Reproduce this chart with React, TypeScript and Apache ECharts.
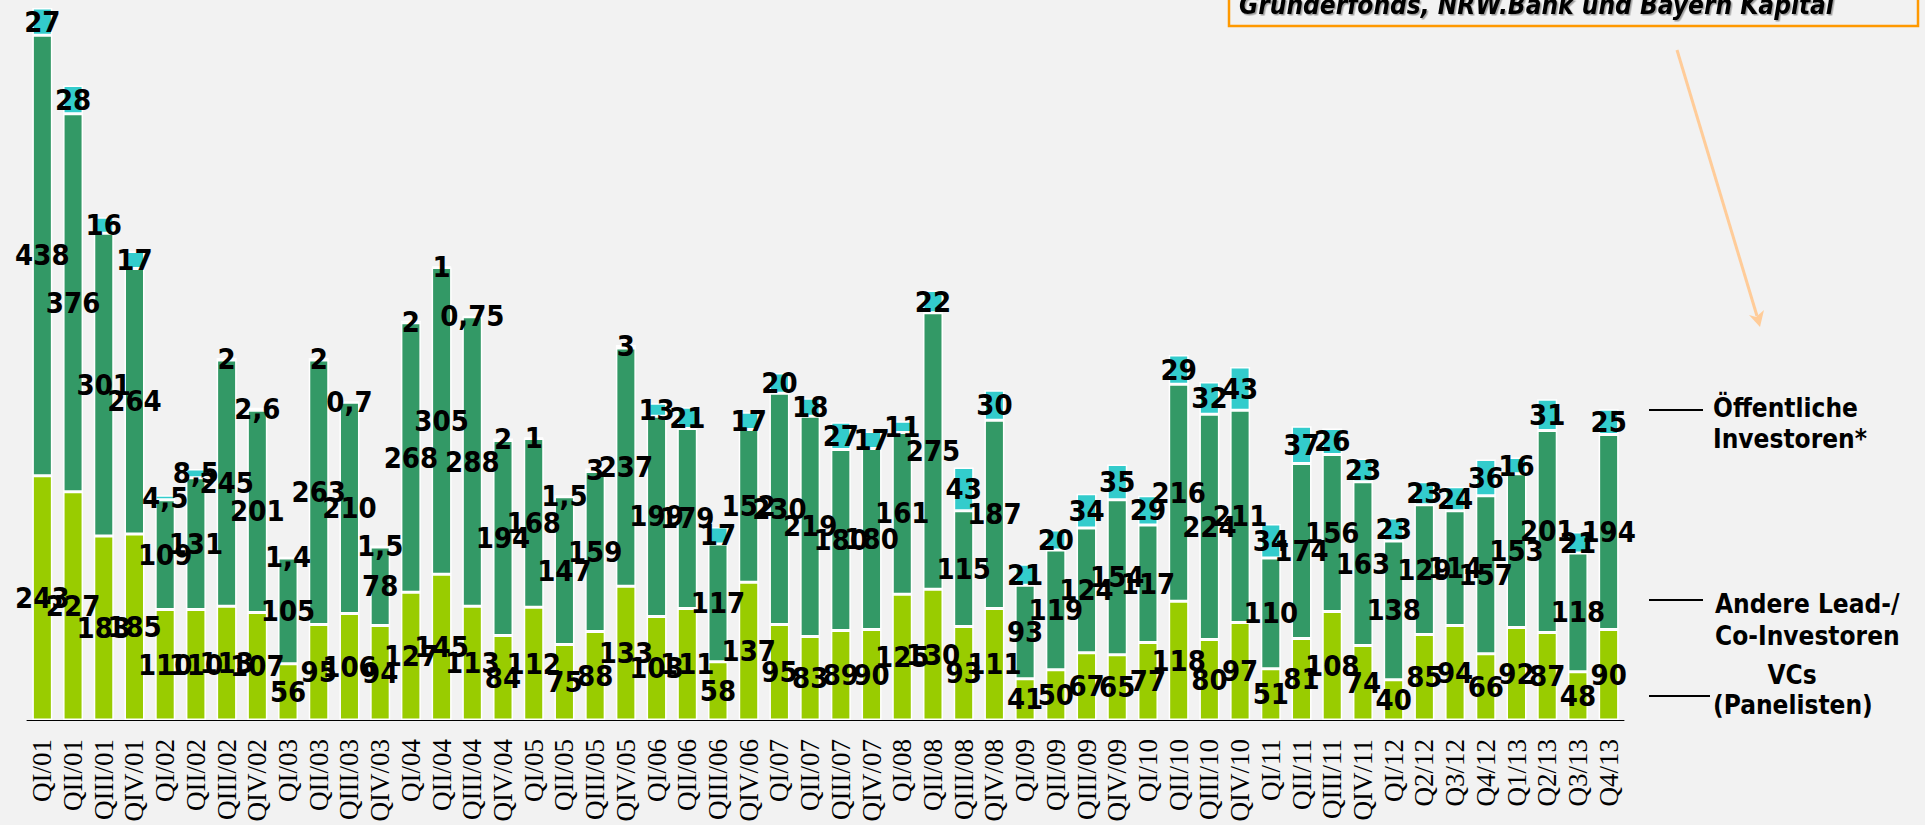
import React, { useEffect, useRef } from "react";
import * as echarts from "echarts";

const categories = [
  "QI/01", "QII/01", "QIII/01", "QIV/01",
  "QI/02", "QII/02", "QIII/02", "QIV/02",
  "QI/03", "QII/03", "QIII/03", "QIV/03",
  "QI/04", "QII/04", "QIII/04", "QIV/04",
  "QI/05", "QII/05", "QIII/05", "QIV/05",
  "QI/06", "QII/06", "QIII/06", "QIV/06",
  "QI/07", "QII/07", "QIII/07", "QIV/07",
  "QI/08", "QII/08", "QIII/08", "QIV/08",
  "QI/09", "QII/09", "QIII/09", "QIV/09",
  "QI/10", "QII/10", "QIII/10", "QIV/10",
  "QI/11", "QII/11", "QIII/11", "QIV/11",
  "QI/12", "Q2/12", "Q3/12", "Q4/12",
  "Q1/13", "Q2/13", "Q3/13", "Q4/13",
];

const vcsPanelisten = [
  243, 227, 183, 185, 110, 110, 113, 107, 56, 95, 106, 94, 127, 145, 113, 84,
  112, 75, 88, 133, 103, 111, 58, 137, 95, 83, 89, 90, 125, 130, 93, 111,
  41, 50, 67, 65, 77, 118, 80, 97, 51, 81, 108, 74, 40, 85, 94, 66, 92, 87, 48, 90,
];

const andereInvestoren = [
  438, 376, 301, 264, 109, 131, 245, 201, 105, 263, 210, 78, 268, 305, 288, 194,
  168, 147, 159, 237, 199, 179, 117, 152, 230, 219, 180, 180, 161, 275, 115, 187,
  93, 119, 124, 154, 117, 216, 224, 211, 110, 174, 156, 163, 138, 129, 114, 157,
  153, 201, 118, 194,
];

const oeffentlicheInvestoren = [
  27, 28, 16, 17, 4.5, 8.5, 2, 2.6, 1.4, 2, 0.7, 1.5, 2, 1, 0.75, 2,
  1, 1.5, 3, 3, 13, 21, 17, 17, 20, 18, 27, 17, 11, 22, 43, 30,
  21, 20, 34, 35, 29, 29, 32, 43, 34, 37, 26, 23, 23, 23, 24, 36,
  16, 31, 21, 25,
];

const seriesNames = ["VCs (Panelisten)", "Andere Lead-/Co-Investoren", "Öffentliche Investoren*"];
const seriesColors = ["#99CC00", "#339966", "#33CCCC"];
const noteText = "Gründerfonds, NRW.Bank und Bayern Kapital";

const SANS = '"DejaVu Sans Condensed", "DejaVu Sans", Verdana, sans-serif';
const SERIF = '"Liberation Serif", "Times New Roman", serif';

export default function App() {
  const ref = useRef<HTMLDivElement>(null);

  useEffect(() => {
    if (!ref.current) return;
    const chart = echarts.init(ref.current, undefined, { renderer: "svg" });

    const label = {
      show: true,
      position: "inside",
      color: "#000",
      fontWeight: "bold",
      fontSize: 29,
      fontFamily: SANS,
      formatter: (p: any) => String(p.value).replace(".", ","),
    };

    const dataSets = [vcsPanelisten, andereInvestoren, oeffentlicheInvestoren];

    const legendText = (text: string, x: number, y: number, align = "left") => ({
      type: "text",
      x,
      y,
      style: {
        text,
        fill: "#000",
        fontSize: 26,
        fontWeight: "bold",
        fontFamily: SANS,
        align,
        verticalAlign: "middle",
      },
      z: 10,
    });
    const legendLine = (y: number, x2: number) => ({
      type: "line",
      shape: { x1: 1649, y1: y, x2, y2: y },
      style: { stroke: "#000", lineWidth: 2 },
      z: 10,
    });

    chart.setOption({
      animation: false,
      backgroundColor: "#F2F2F2",
      grid: { left: 27, right: 301, top: 0, bottom: 105 },
      xAxis: {
        type: "category",
        data: categories,
        axisLine: { lineStyle: { color: "#000", width: 1 } },
        axisTick: { length: 9, lineStyle: { color: "#333" } },
        axisLabel: {
          rotate: 90,
          interval: 0,
          margin: 19,
          fontSize: 27,
          fontFamily: SERIF,
          color: "#000",
        },
      },
      yAxis: {
        type: "value",
        min: 0,
        max: 716,
        show: false,
        splitLine: { show: false },
      },
      series: dataSets.map((d, i) => ({
        name: seriesNames[i],
        type: "bar",
        stack: "total",
        barWidth: 20,
        data: d,
        itemStyle: { color: seriesColors[i], borderColor: "#fff", borderWidth: 1.5 },
        label,
      })),
      graphic: [
        {
          type: "rect",
          shape: { x: 1229, y: -30, width: 689, height: 56 },
          style: { fill: "none", stroke: "#FF9900", lineWidth: 2.5 },
        },
        {
          type: "text",
          x: 1239,
          y: 5,
          style: {
            text: noteText,
            fill: "#000",
            fontSize: 26,
            fontWeight: "bold",
            fontStyle: "italic",
            fontFamily: SANS,
            align: "left",
            verticalAlign: "middle",
            textShadowColor: "rgba(0,0,0,0.35)",
            textShadowOffsetX: 1.5,
            textShadowOffsetY: 1.5,
            textShadowBlur: 1,
          },
        },
        {
          type: "line",
          shape: { x1: 1677, y1: 50, x2: 1757, y2: 316 },
          style: { stroke: "#FFCC99", lineWidth: 3 },
        },
        {
          type: "polygon",
          shape: {
            points: [
              [1760, 327],
              [1764, 310],
              [1756, 317],
              [1749, 315],
            ],
          },
          style: { fill: "#FFCC99" },
        },
        legendLine(410, 1703),
        legendLine(600, 1703),
        legendLine(696, 1710),
        legendText("Öffentliche", 1713, 408),
        legendText("Investoren*", 1713, 439),
        legendText("Andere Lead-/", 1715, 604),
        legendText("Co-Investoren", 1715, 636),
        legendText("VCs", 1792, 675, "center"),
        legendText("(Panelisten)", 1713, 705),
      ],
    });

    return () => chart.dispose();
  }, []);

  return (
    <div
      ref={ref}
      style={{ position: "fixed", left: 0, top: 0, width: 1925, height: 825 }}
    />
  );
}
